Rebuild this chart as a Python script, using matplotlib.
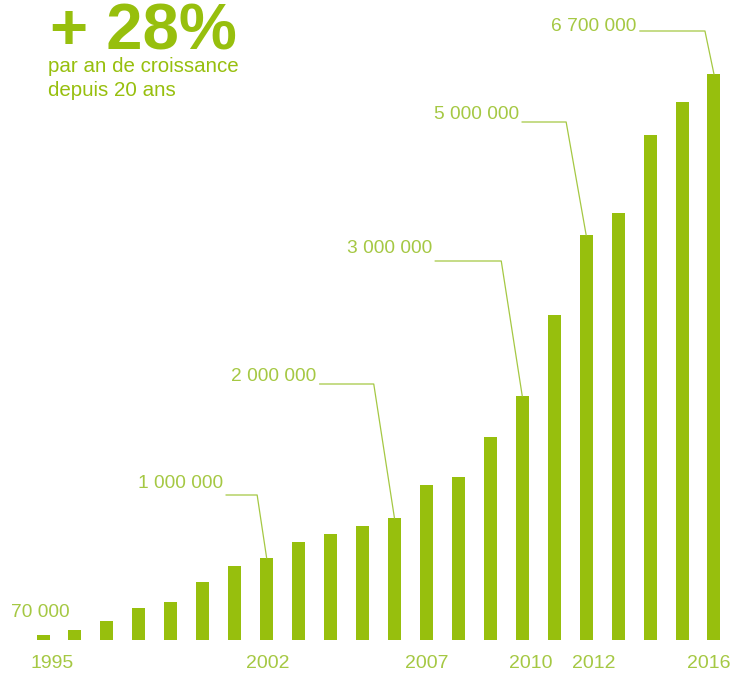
import matplotlib
matplotlib.use("Agg")
import matplotlib.pyplot as plt

# ---- data ----
years = list(range(1995, 2017))
# bar heights (relative units)
heights = [4.5, 9.5, 18.5, 31.5, 37.5, 57.5, 73.5, 81.5, 97.5, 105.5, 113.5,
           121.5, 154.5, 162.5, 202.5, 243.5, 324.5, 404.5, 426.5, 504.5,
           537.5, 565.5]
year_labels = ["1995", "2002", "2007", "2010", "2012", "2016"]
callout_years = [2002, 2006, 2010, 2012, 2016]
callout_texts = ["1 000 000", "2 000 000", "3 000 000", "5 000 000", "6 700 000"]
first_label = "70 000"
title_text = "+ 28%"
subtitle_lines = ["par an de croissance", "depuis 20 ans"]

# ---- layout / style (pixels) ----
year_label_dx = [9, 1, 0, 8, 8, -5]
# (elbow dx, elbow rise, arm length, text rise)
callout_layout = [(-9.5, 63, 31, 7), (-20.7, 134, 54, 3), (-21, 135, 66, 8),
                  (-20, 113, 44, 3), (-9, 43, 65, 0)]
BAR_COLOR = "#97bf0d"
TEXT_COLOR = "#a5c843"
FONT = ["Liberation Sans", "DejaVu Sans"]

W, H = 732, 673
fig = plt.figure(figsize=(W / 100, H / 100), dpi=100)
ax = fig.add_axes([0, 0, 1, 1])
ax.axis("off")

x0_px, ppy = 43.0, 31.95
ax.set_xlim(years[0] - x0_px / ppy, years[0] + (W - x0_px) / ppy)
base_px = 639.5
ax.set_ylim(-(H - base_px), base_px)

ax.bar(years, heights, width=13 / ppy, color=BAR_COLOR, linewidth=0)

fig.canvas.draw()
tr = ax.transData

# year labels
for lab, dx in zip(year_labels, year_label_dx):
    px, _ = tr.transform((int(lab), 0))
    fig.text((px + dx) / W, 4.5 / H, lab, ha="center", va="baseline",
             fontsize=14, color=TEXT_COLOR, family=FONT)

# first value label
bx, by = tr.transform((years[0], heights[0]))
fig.text((bx + 26.5) / W, (by + 18) / H, first_label, ha="right", va="baseline",
         fontsize=13.8, color=TEXT_COLOR, family=FONT)

# call-outs
for yr, txt, (edx, erise, arm, trise) in zip(callout_years, callout_texts, callout_layout):
    h = heights[years.index(yr)]
    bx, by = tr.transform((yr, h))
    ex, ey = bx + edx, by + erise
    ax_x, ax_y = ex - arm, ey
    fig.add_artist(plt.Line2D([bx / W, ex / W, ax_x / W], [by / H, ey / H, ax_y / H],
                              transform=fig.transFigure, color=TEXT_COLOR, lw=0.9))
    fig.text((ax_x - 3.5) / W, (ey + trise) / H, txt, ha="right", va="baseline",
             fontsize=13.8, color=TEXT_COLOR, family=FONT)

# title
fig.text(50 / W, (H - 49) / H, title_text, ha="left", va="baseline", fontsize=47,
         fontweight="bold", color=BAR_COLOR, family=FONT)
for i, line in enumerate(subtitle_lines):
    fig.text(48 / W, (H - 72 - 23.5 * i) / H, line, ha="left", va="baseline",
             fontsize=14.8, color=BAR_COLOR, family=FONT)

fig.savefig("out.png", dpi=100, facecolor="white")
